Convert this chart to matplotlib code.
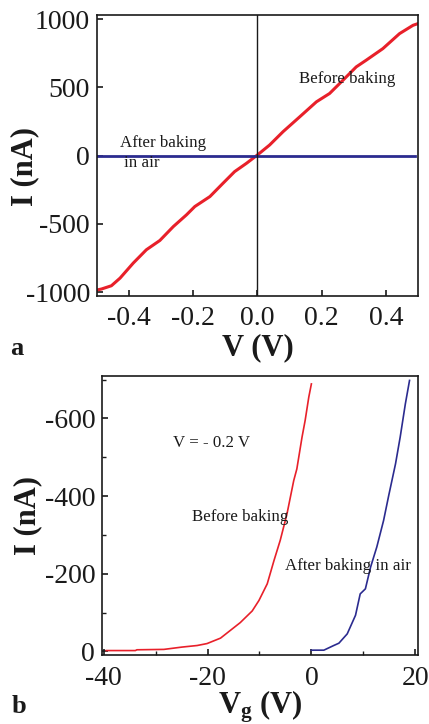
import numpy as np
import matplotlib
matplotlib.use("Agg")
import matplotlib.pyplot as plt
from matplotlib.ticker import MultipleLocator

RED = "#e8202a"
BLUE = "#2b2b8f"
INK = "#1a1a1a"

# panel a: I-V before / after baking
va_before = [-0.5, -0.486, -0.455, -0.428, -0.387, -0.346, -0.304, -0.262, -0.221, -0.195,
             -0.148, -0.107, -0.071, -0.034, 0.0, 0.038, 0.080, 0.132, 0.184, 0.225,
             0.267, 0.308, 0.339, 0.391, 0.443, 0.485, 0.5]
ia_before = [-985, -978, -954, -898, -788, -690, -622, -520, -434, -373,
             -300, -202, -117, -56, 5, 78, 176, 285, 395, 456,
             554, 651, 700, 785, 895, 956, 968]
va_after = [-0.5, 0.0, 0.49]
ia_after = [0, 0, 0]

# panel b: transfer curves at V = -0.2 V
vg_before = [-39.5, -33.9, -33.6, -28.4, -24.9, -22.0, -20.1, -17.5, -15.6, -13.7,
             -11.4, -10.1, -8.5, -7.2, -6.0, -4.7, -3.4, -2.8, -1.8, -1.2, -0.5, 0.0]
ib_before = [-2, -2, -4, -5, -11, -15, -20, -34, -54, -74,
             -104, -131, -174, -234, -286, -354, -440, -470, -552, -595, -655, -689]
vg_after = [0.0, 2.4, 4.3, 5.3, 6.9, 8.5, 9.4, 10.4, 11.4, 12.6,
            13.9, 14.9, 16.2, 17.1, 18.1, 18.9]
ib_after = [-3, -3, -15, -21, -45, -93, -148, -161, -217, -269,
            -337, -402, -483, -552, -638, -698]

plt.rcParams.update({
    "font.family": "Liberation Serif", "axes.unicode_minus": False,
    "mathtext.fontset": "custom", "mathtext.rm": "Liberation Serif",
    "mathtext.bf": "Liberation Serif:bold", "mathtext.it": "Liberation Serif:italic",
    "axes.edgecolor": INK, "axes.linewidth": 1.2, "xtick.color": INK, "ytick.color": INK,
    "text.color": INK, "axes.labelcolor": INK,
})

fig = plt.figure(figsize=(4.29, 7.24), dpi=100)

# ---- a ----
ax1 = fig.add_axes([0.226, 0.591, 0.748, 0.388])
ax1.plot(va_before, ia_before, color=RED, lw=2.2)
ax1.plot(va_after, ia_after, color=BLUE, lw=2.0)
ax1.axvline(0, color=INK, lw=1.0)
ax1.set_xlim(-0.5, 0.5)
ax1.set_ylim(-1030, 1030)
ax1.set_xticks([-0.4, -0.2, 0.0, 0.2, 0.4])
ax1.set_yticks([-1000, -500, 0, 500, 1000])
ax1.tick_params(direction="in", length=4, width=1.2, labelsize=20, pad=5)
ax1.tick_params(axis="x", pad=7)
ax1.set_xlabel("V (V)", fontsize=22, fontweight="bold", labelpad=2)
ax1.set_ylabel("I (nA)", fontsize=22, fontweight="bold")
ax1.yaxis.set_label_coords(-0.18, 0.46)
ax1.text(0.129, 532, "Before baking", fontsize=12.2)
ax1.text(-0.428, 64, "After baking", fontsize=12.2)
ax1.text(-0.416, -83, "in air", fontsize=12.2)
fig.text(0.023, 0.51, "a", fontsize=19, fontweight="bold")

# ---- b ----
ax2 = fig.add_axes([0.238, 0.095, 0.736, 0.386])
ax2.plot(vg_before, ib_before, color=RED, lw=1.2)
ax2.plot(vg_after, ib_after, color=BLUE, lw=1.2)
ax2.set_xlim(-40.3, 20.5)
ax2.set_ylim(10, -710)
ax2.set_xticks([-40, -20, 0, 20])
ax2.set_yticks([0, -200, -400, -600])
ax2.xaxis.set_minor_locator(MultipleLocator(10))
ax2.yaxis.set_minor_locator(MultipleLocator(100))
ax2.tick_params(which="major", direction="in", length=4, width=1.2, labelsize=20, pad=5)
ax2.tick_params(axis="x", which="major", pad=8)
ax2.tick_params(which="minor", direction="in", length=3, width=1.0)
ax2.set_xlabel(r"V$_\mathbf{g}$ (V)", fontsize=22, fontweight="bold", labelpad=-2)
ax2.set_ylabel("I (nA)", fontsize=22, fontweight="bold")
ax2.yaxis.set_label_coords(-0.19, 0.5)
ax2.text(-26.6, -526, "V = - 0.2 V", fontsize=12.2)
ax2.text(-22.9, -336, "Before baking", fontsize=12.2)
ax2.text(-5.0, -209, "After baking in air", fontsize=12.2)
fig.text(0.028, 0.015, "b", fontsize=19, fontweight="bold")

fig.savefig("out.png", dpi=100)
